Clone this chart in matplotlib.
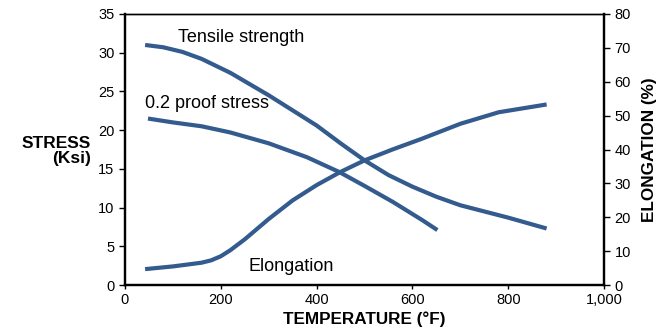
import matplotlib.pyplot as plt

plt.rcParams["font.family"] = ["Liberation Sans", "DejaVu Sans"]

# Données
temp_tensile = [42, 80, 120, 160, 220, 300, 400, 450, 500, 550, 600, 650, 700, 750, 800, 880]
tensile = [31.0, 30.7, 30.1, 29.2, 27.4, 24.5, 20.6, 18.3, 16.1, 14.2, 12.7, 11.4, 10.3, 9.5, 8.7, 7.3]

temp_proof = [48, 100, 160, 220, 300, 380, 447, 500, 560, 620, 652]
proof = [21.5, 21.0, 20.5, 19.7, 18.3, 16.5, 14.6, 12.8, 10.7, 8.4, 7.1]

temp_elong = [42, 100, 160, 180, 200, 220, 250, 300, 350, 400, 450, 500, 560, 620, 700, 780, 880]
elong = [4.7, 5.5, 6.6, 7.3, 8.5, 10.3, 13.5, 19.5, 25.0, 29.5, 33.4, 36.8, 40.1, 43.2, 47.6, 51.0, 53.3]

x_ticks = [0, 200, 400, 600, 800, 1000]
x_labels = ["0", "200", "400", "600", "800", "1,000"]
left_ticks = [0, 5, 10, 15, 20, 25, 30, 35]
right_ticks = [0, 10, 20, 30, 40, 50, 60, 70, 80]

color = "#335b8e"
lw = 3.0

fig = plt.figure(figsize=(6.72, 3.33), dpi=100)
ax = fig.add_axes([0.186, 0.144, 0.713, 0.814])
ax2 = ax.twinx()

ax.plot(temp_tensile, tensile, color=color, lw=lw, solid_capstyle="butt", solid_joinstyle="round")
ax.plot(temp_proof, proof, color=color, lw=lw, solid_capstyle="butt", solid_joinstyle="round")
ax2.plot(temp_elong, elong, color=color, lw=lw, solid_capstyle="butt", solid_joinstyle="round")

ax.set_xlim(0, 1000)
ax.set_ylim(0, 35)
ax2.set_ylim(0, 80)
ax.set_xticks(x_ticks, x_labels)
ax.set_yticks(left_ticks)
ax2.set_yticks(right_ticks)

for a in (ax, ax2):
    a.tick_params(labelsize=10.5, width=1, length=4, colors="black")
    for s in a.spines.values():
        s.set_linewidth(1.6)
    a.spines["top"].set_linewidth(1.0)
ax.tick_params(axis="x", length=3, pad=3)

# Textes
ax.text(111, 32.0, "Tensile strength", fontsize=13, va="center")
ax.text(42, 23.4, "0.2 proof stress", fontsize=13, va="center")
ax.text(257, 2.45, "Elongation", fontsize=13, va="center")

fig.text(0.135, 0.547, "STRESS\n(Ksi)", fontsize=12.5, fontweight="bold",
         ha="right", va="center", multialignment="right", linespacing=1.0)
ax2.set_ylabel("ELONGATION (%)", fontsize=12.3, fontweight="bold", labelpad=8)
ax.set_xlabel("TEMPERATURE (°F)", fontsize=12.3, fontweight="bold", labelpad=3)

fig.savefig("out.png", dpi=100)
